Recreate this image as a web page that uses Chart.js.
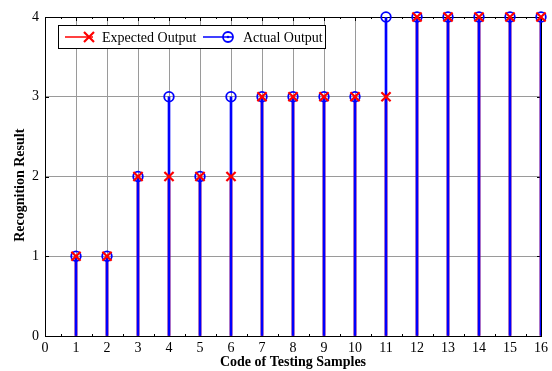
<!DOCTYPE html>
<html>
<head>
<meta charset="utf-8">
<script src="https://cdn.jsdelivr.net/npm/chart.js@4.4.1/dist/chart.umd.min.js"></script>
<style>
  html, body { margin: 0; padding: 0; background: #fff; }
  #wrap { width: 552px; height: 371px; }
</style>
</head>
<body>
<div id="wrap"><canvas id="stemChart"></canvas></div>
<script>
// sample codes and the two outputs
const sampleCodes = [1, 2, 3, 4, 5, 6, 7, 8, 9, 10, 11, 12, 13, 14, 15, 16];
const expectedOutput = [1, 1, 2, 2, 2, 2, 3, 3, 3, 3, 3, 4, 4, 4, 4, 4];
const actualOutput = [1, 1, 2, 3, 2, 3, 3, 3, 3, 3, 4, 4, 4, 4, 4, 4];
const xTicks = [0, 1, 2, 3, 4, 5, 6, 7, 8, 9, 10, 11, 12, 13, 14, 15, 16];
const yTicks = [0, 1, 2, 3, 4];

const RED = '#ff0000';
const BLUE = '#0000ff';
const FONT = 'Liberation Serif, Times New Roman, serif';

const pts = (ys) => sampleCodes.map((x, i) => ({x: x, y: ys[i]}));

// box around the axes plus inward ticks, matlab style
const axesBox = {
    id: 'axesBox',
    beforeDatasetsDraw(chart) {
        const {ctx, chartArea: a, scales: {x, y}} = chart;
        ctx.save();
        ctx.strokeStyle = '#000';
        ctx.lineWidth = 1;
        ctx.beginPath();
        for (let v = 0; v <= 16; v += 0.5) {
            const px = Math.round(x.getPixelForValue(v)) + 0.5;
            const len = Number.isInteger(v) ? 4 : 2;
            ctx.moveTo(px, a.bottom); ctx.lineTo(px, a.bottom - len);
            ctx.moveTo(px, a.top); ctx.lineTo(px, a.top + len);
        }
        yTicks.forEach(v => {
            const py = Math.round(y.getPixelForValue(v)) + 0.5;
            ctx.moveTo(a.left, py); ctx.lineTo(a.left + 4, py);
            ctx.moveTo(a.right, py); ctx.lineTo(a.right - 4, py);
        });
        ctx.stroke();
        ctx.strokeRect(Math.round(a.left) + 0.5, Math.round(a.top) + 0.5,
            Math.round(a.right - a.left), Math.round(a.bottom - a.top));
        ctx.restore();
    }
};

// legend with line + marker like the original figure
const stemLegend = {
    id: 'stemLegend',
    afterDraw(chart) {
        const ctx = chart.ctx;
        const box = {x: 58.5, y: 25.5, w: 267, h: 23};
        const cy = box.y + box.h / 2;
        ctx.save();
        ctx.fillStyle = '#fff';
        ctx.fillRect(box.x, box.y, box.w, box.h);
        ctx.strokeStyle = '#000';
        ctx.lineWidth = 1;
        ctx.strokeRect(box.x, box.y, box.w, box.h);

        // expected
        ctx.strokeStyle = RED;
        ctx.lineWidth = 1.5;
        ctx.beginPath();
        ctx.moveTo(65, cy); ctx.lineTo(93, cy);
        ctx.stroke();
        ctx.lineWidth = 2.2;
        ctx.beginPath();
        ctx.moveTo(84, cy - 5); ctx.lineTo(94, cy + 5);
        ctx.moveTo(94, cy - 5); ctx.lineTo(84, cy + 5);
        ctx.stroke();

        // actual
        ctx.strokeStyle = BLUE;
        ctx.lineWidth = 1.5;
        ctx.beginPath();
        ctx.moveTo(203, cy); ctx.lineTo(232, cy);
        ctx.stroke();
        ctx.lineWidth = 1.8;
        ctx.beginPath();
        ctx.arc(228, cy, 5, 0, Math.PI * 2);
        ctx.stroke();
        ctx.fillStyle = BLUE;
        ctx.beginPath();
        ctx.arc(228, cy, 1.3, 0, Math.PI * 2);
        ctx.fill();

        ctx.fillStyle = '#000';
        ctx.font = '14px ' + FONT;
        ctx.textBaseline = 'middle';
        ctx.fillText(chart.data.datasets[0].label, 102, cy + 1);
        ctx.fillText(chart.data.datasets[1].label, 243, cy + 1);
        ctx.restore();
    }
};

const ctx = document.getElementById('stemChart').getContext('2d');
const stemChart = new Chart(ctx, {
    type: 'scatter',
    plugins: [axesBox, stemLegend],
    data: {
        datasets: [
        {
            label: 'Expected Output',
            data: pts(expectedOutput),
            pointStyle: 'crossRot',
            pointRadius: 6.5,
            pointBorderWidth: 2.2,
            borderColor: RED,
            backgroundColor: RED,
            showLine: false,
            clip: false,
            order: 0
        },
        {
            label: 'Actual Output',
            data: pts(actualOutput),
            pointStyle: 'circle',
            pointRadius: 4.8,
            pointBorderWidth: 1.8,
            borderColor: BLUE,
            backgroundColor: 'rgba(0,0,0,0)',
            showLine: false,
            clip: false,
            order: 1
        },
        {
            type: 'bar',
            label: 'actual stem',
            data: pts(actualOutput),
            backgroundColor: BLUE,
            barThickness: 2,
            grouped: false,
            order: 2
        },
        {
            type: 'bar',
            label: 'expected stem',
            data: pts(expectedOutput),
            backgroundColor: RED,
            barThickness: 2,
            grouped: false,
            order: 3
        }]
    },
    options: {
        responsive: true,
        maintainAspectRatio: false,
        animation: false,
        layout: {
            padding: {top: 17, right: 8, left: 0, bottom: 0}
        },
        plugins: {
            legend: { display: false },
            tooltip: { enabled: false }
        },
        scales: {
            x: {
                type: 'linear',
                min: 0,
                max: 16,
                offset: false,
                afterBuildTicks: (s) => { s.ticks = xTicks.map(v => ({value: v})); },
                afterFit: (s) => { s.height = 35; },
                grid: { color: '#9a9a9a', drawTicks: false, offset: false },
                border: { color: '#000', width: 1 },
                ticks: {
                    padding: 4,
                    color: '#000',
                    maxRotation: 0,
                    autoSkip: false,
                    font: { family: FONT, size: 14 }
                },
                title: {
                    display: true,
                    text: 'Code of Testing Samples',
                    color: '#000',
                    padding: { top: 0, bottom: 0 },
                    font: { family: FONT, size: 14, weight: 'bold' }
                }
            },
            y: {
                min: 0,
                max: 4,
                afterBuildTicks: (s) => { s.ticks = yTicks.map(v => ({value: v})); },
                afterFit: (s) => { s.width = 45; },
                grid: { color: '#9a9a9a', drawTicks: false },
                border: { color: '#000', width: 1 },
                ticks: {
                    padding: 6,
                    color: '#000',
                    font: { family: FONT, size: 14 }
                },
                title: {
                    display: true,
                    // trailing spaces nudge the rotated label down like the original
                    text: 'Recognition Result     ',
                    color: '#000',
                    padding: { top: 12, bottom: 0 },
                    font: { family: FONT, size: 14, weight: 'bold' }
                }
            }
        }
    }
});
</script>
</body>
</html>
